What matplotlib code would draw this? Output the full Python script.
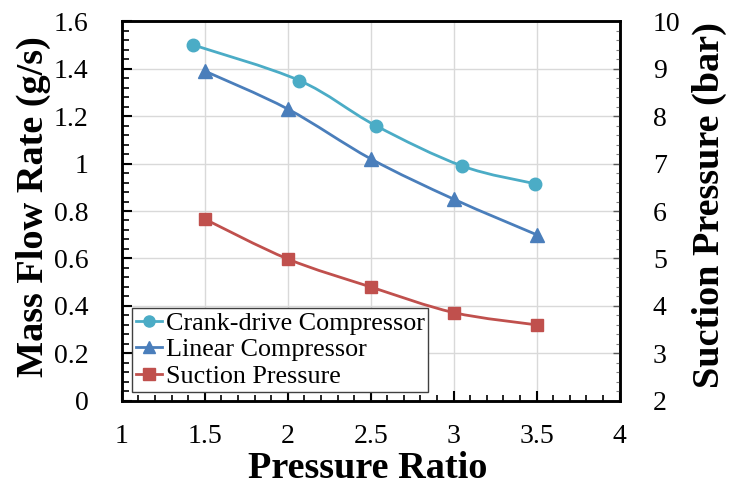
import numpy as np
import matplotlib
matplotlib.use("Agg")
import matplotlib.pyplot as plt
from matplotlib.path import Path
from matplotlib.patches import PathPatch
from matplotlib.lines import Line2D
from matplotlib.ticker import MultipleLocator

plt.rcParams['font.family'] = ['Liberation Serif', 'DejaVu Serif']

# data
crank_x = [1.43, 2.07, 2.53, 3.05, 3.49]
crank_flow = [1.50, 1.35, 1.16, 0.99, 0.915]
linear_x = [1.5, 2.0, 2.5, 3.0, 3.5]
linear_flow = [1.39, 1.23, 1.02, 0.85, 0.70]
suction_x = [1.5, 2.0, 2.5, 3.0, 3.5]
suction_bar = [5.83, 4.99, 4.40, 3.86, 3.60]

c_crank = '#4BACC6'
c_linear = '#4A7EBB'
c_suction = '#C0504D'


def smooth_path(x, y):
    # Excel-style smoothed line: cubic bezier through the points
    x = np.asarray(x, float)
    y = np.asarray(y, float)
    n = len(x)
    verts = [(x[0], y[0])]
    codes = [Path.MOVETO]
    for i in range(n - 1):
        p0 = (x[max(i - 1, 0)], y[max(i - 1, 0)])
        p1 = (x[i], y[i])
        p2 = (x[i + 1], y[i + 1])
        p3 = (x[min(i + 2, n - 1)], y[min(i + 2, n - 1)])
        c1 = (p1[0] + (p2[0] - p0[0]) / 6, p1[1] + (p2[1] - p0[1]) / 6)
        c2 = (p2[0] - (p3[0] - p1[0]) / 6, p2[1] - (p3[1] - p1[1]) / 6)
        verts += [c1, c2, p2]
        codes += [Path.CURVE4] * 3
    return Path(verts, codes)


fig = plt.figure(figsize=(7.29, 4.93), dpi=100)
ax = fig.add_axes([0.167, 0.187, 0.683, 0.770])
ax2 = ax.twinx()

ax.set_xlim(1, 4)
ax.set_ylim(0, 1.6)
ax2.set_ylim(2, 10)

ax.xaxis.set_major_locator(MultipleLocator(0.5))
ax.xaxis.set_minor_locator(MultipleLocator(0.1))
ax.yaxis.set_major_locator(MultipleLocator(0.2))
ax.yaxis.set_minor_locator(MultipleLocator(0.04))
ax2.yaxis.set_major_locator(MultipleLocator(1))
ax2.yaxis.set_minor_locator(MultipleLocator(0.2))

ax.set_xticks([1, 1.5, 2, 2.5, 3, 3.5, 4])
ax.set_xticklabels(['1', '1.5', '2', '2.5', '3', '3.5', '4'])
ax.set_yticks([0, 0.2, 0.4, 0.6, 0.8, 1.0, 1.2, 1.4, 1.6])
ax.set_yticklabels(['0', '0.2', '0.4', '0.6', '0.8', '1', '1.2', '1.4', '1.6'])

ax.grid(True, which='major', color='#D9D9D9', linewidth=1.0)
ax.set_axisbelow(True)

ax.tick_params(axis='x', which='major', direction='in', length=7, width=1.5,
               labelsize=20, pad=17, top=False)
ax.tick_params(axis='x', which='minor', direction='in', length=4, width=1.2, top=False)
ax.tick_params(axis='y', which='major', direction='in', length=7, width=1.5,
               labelsize=20, pad=24)
ax.tick_params(axis='y', which='minor', direction='in', length=5, width=1.2)
ax2.tick_params(axis='y', which='major', direction='in', length=5, width=1.0,
                color='#595959', labelsize=20, pad=24)
ax2.tick_params(axis='y', which='minor', direction='in', length=3, width=0.8,
                color='#7F7F7F')

for a in (ax, ax2):
    for s in a.spines.values():
        s.set_linewidth(1.8)
        s.set_color('black')

# smoothed lines
ax.add_patch(PathPatch(smooth_path(crank_x, crank_flow), fill=False,
                       edgecolor=c_crank, linewidth=2.0, zorder=3))
ax.add_patch(PathPatch(smooth_path(linear_x, linear_flow), fill=False,
                       edgecolor=c_linear, linewidth=2.0, zorder=3))
ax2.add_patch(PathPatch(smooth_path(suction_x, suction_bar), fill=False,
                        edgecolor=c_suction, linewidth=2.0, zorder=3))

ax.plot(crank_x, crank_flow, linestyle='none', marker='o', markersize=9,
        color=c_crank, zorder=4)
ax.plot(linear_x, linear_flow, linestyle='none', marker='^', markersize=10,
        color=c_linear, zorder=4)
ax2.plot(suction_x, suction_bar, linestyle='none', marker='s', markersize=8.5,
         color=c_suction, zorder=4)

handles = [
    Line2D([], [], color=c_crank, marker='o', markersize=8, linewidth=2),
    Line2D([], [], color=c_linear, marker='^', markersize=9, linewidth=2),
    Line2D([], [], color=c_suction, marker='s', markersize=8, linewidth=2),
]
labels = ['Crank-drive Compressor', 'Linear Compressor', 'Suction Pressure']
leg = ax2.legend(handles, labels, loc='lower left', bbox_to_anchor=(0.02, 0.024),
                 borderaxespad=0, fontsize=18.8, handlelength=1.0,
                 handletextpad=0.15, borderpad=0.15, labelspacing=0.12,
                 fancybox=False, framealpha=1, edgecolor='#404040')
leg.get_frame().set_linewidth(1.0)
leg.set_zorder(10)

fig.text(0.505, 0.05, 'Pressure Ratio', ha='center', va='center',
         fontsize=27.5, fontweight='bold')
fig.text(0.046, 0.58, 'Mass Flow Rate (g/s)', ha='center', va='center',
         rotation=90, fontsize=27.5, fontweight='bold')
fig.text(0.973, 0.585, 'Suction Pressure (bar)', ha='center', va='center',
         rotation=90, fontsize=27.5, fontweight='bold')

fig.savefig('out.png', dpi=100)
